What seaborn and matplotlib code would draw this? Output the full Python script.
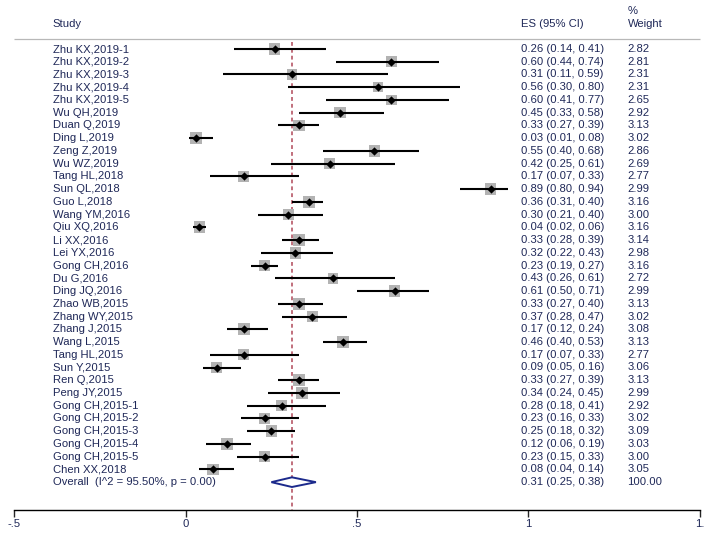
import numpy as np
import pandas as pd
import matplotlib
matplotlib.use("Agg")
import matplotlib.pyplot as plt
import seaborn as sns

# study data
studies = ["Zhu KX,2019-1", "Zhu KX,2019-2", "Zhu KX,2019-3", "Zhu KX,2019-4", "Zhu KX,2019-5",
           "Wu QH,2019", "Duan Q,2019", "Ding L,2019", "Zeng Z,2019", "Wu WZ,2019",
           "Tang HL,2018", "Sun QL,2018", "Guo L,2018", "Wang YM,2016", "Qiu XQ,2016",
           "Li XX,2016", "Lei YX,2016", "Gong CH,2016", "Du G,2016", "Ding JQ,2016",
           "Zhao WB,2015", "Zhang WY,2015", "Zhang J,2015", "Wang L,2015", "Tang HL,2015",
           "Sun Y,2015", "Ren Q,2015", "Peng JY,2015", "Gong CH,2015-1", "Gong CH,2015-2",
           "Gong CH,2015-3", "Gong CH,2015-4", "Gong CH,2015-5", "Chen XX,2018"]
es = [0.26, 0.60, 0.31, 0.56, 0.60, 0.45, 0.33, 0.03, 0.55, 0.42,
      0.17, 0.89, 0.36, 0.30, 0.04, 0.33, 0.32, 0.23, 0.43, 0.61,
      0.33, 0.37, 0.17, 0.46, 0.17, 0.09, 0.33, 0.34, 0.28, 0.23,
      0.25, 0.12, 0.23, 0.08]
lo = [0.14, 0.44, 0.11, 0.30, 0.41, 0.33, 0.27, 0.01, 0.40, 0.25,
      0.07, 0.80, 0.31, 0.21, 0.02, 0.28, 0.22, 0.19, 0.26, 0.50,
      0.27, 0.28, 0.12, 0.40, 0.07, 0.05, 0.27, 0.24, 0.18, 0.16,
      0.18, 0.06, 0.15, 0.04]
hi = [0.41, 0.74, 0.59, 0.80, 0.77, 0.58, 0.39, 0.08, 0.68, 0.61,
      0.33, 0.94, 0.40, 0.40, 0.06, 0.39, 0.43, 0.27, 0.61, 0.71,
      0.40, 0.47, 0.24, 0.53, 0.33, 0.16, 0.39, 0.45, 0.41, 0.33,
      0.32, 0.19, 0.33, 0.14]
weight = [2.82, 2.81, 2.31, 2.31, 2.65, 2.92, 3.13, 3.02, 2.86, 2.69,
          2.77, 2.99, 3.16, 3.00, 3.16, 3.14, 2.98, 3.16, 2.72, 2.99,
          3.13, 3.02, 3.08, 3.13, 2.77, 3.06, 3.13, 2.99, 2.92, 3.02,
          3.09, 3.03, 3.00, 3.05]
overall_label = "Overall  (I^2 = 95.50%, p = 0.00)"
overall_es, overall_lo, overall_hi, overall_w = 0.31, 0.25, 0.38, 100.00
tick_vals = [-0.5, 0, 0.5, 1, 1.5]
tick_labels = ["-.5", "0", ".5", "1", "1."]

df = pd.DataFrame({"study": studies, "es": es, "lo": lo, "hi": hi, "weight": weight})
df["row"] = np.arange(len(df))
overall_row = len(df)

sns.set_style("white")
plt.rcParams["font.family"] = ["Liberation Sans", "DejaVu Sans"]
txt_col = "#1f2858"
fs = 8.1

fig = plt.figure(figsize=(7.08, 5.35), dpi=100)
ax = fig.add_axes([0, 25 / 535, 1, 1 - 25 / 535])
ax.set_xlim(-0.5423, 1.5248)
ax.set_ylim((510 - 49) / 12.74, -49 / 12.74)

# confidence intervals
ax.hlines(df["row"], df["lo"], df["hi"], color="black", lw=1.5, zorder=3)
# weight boxes + point estimates
sns.scatterplot(data=df, x="es", y="row", marker="s", color="#b3b3b3",
                s=df["weight"] / 3.0 * 68, linewidth=0, ax=ax, zorder=2, legend=False)
sns.scatterplot(data=df, x="es", y="row", marker="D", color="black",
                s=18, linewidth=0, ax=ax, zorder=4, legend=False)

# overall diamond
h = 0.38
ax.fill([overall_lo, overall_es, overall_hi, overall_es],
        [overall_row, overall_row - h, overall_row, overall_row + h],
        facecolor="white", edgecolor="#1c2a8c", lw=1.4, zorder=3)

# overall effect reference line
header_row = -0.78
ax.vlines(overall_es, header_row + 0.25, ax.get_ylim()[0], color="#b04858",
          lw=1.1, linestyles=(0, (2.5, 2)), zorder=1)

# header
ax.hlines(header_row, -0.5, 1.5, color="#b8b8b8", lw=0.9)
x_study, x_es, x_w = -0.388, 0.978, 1.29
ax.text(x_study, -1.96, "Study", fontsize=fs, color=txt_col, va="center")
ax.text(x_es, -1.96, "ES (95% CI)", fontsize=fs, color=txt_col, va="center")
ax.text(x_w, -2.98, "%", fontsize=fs, color=txt_col, va="center")
ax.text(x_w, -1.96, "Weight", fontsize=fs, color=txt_col, va="center")

for r in df.itertuples():
    ax.text(x_study, r.row, r.study, fontsize=fs, color=txt_col, va="center")
    ax.text(x_es, r.row, f"{r.es:.2f} ({r.lo:.2f}, {r.hi:.2f})", fontsize=fs, color=txt_col, va="center")
    ax.text(x_w, r.row, f"{r.weight:.2f}", fontsize=fs, color=txt_col, va="center")
ax.text(x_study, overall_row, overall_label, fontsize=fs, color=txt_col, va="center")
ax.text(x_es, overall_row, f"{overall_es:.2f} ({overall_lo:.2f}, {overall_hi:.2f})",
        fontsize=fs, color=txt_col, va="center")
ax.text(x_w, overall_row, f"{overall_w:.2f}", fontsize=fs, color=txt_col, va="center")

# axis
for s in ["top", "left", "right"]:
    ax.spines[s].set_visible(False)
ax.spines["bottom"].set_bounds(-0.5, 1.5)
ax.spines["bottom"].set_color("black")
ax.spines["bottom"].set_linewidth(1.0)
ax.set_xticks(tick_vals)
ax.set_xticklabels(tick_labels)
ax.tick_params(axis="x", direction="out", length=5, width=1, pad=1.5,
               labelsize=fs, labelcolor=txt_col, bottom=True)
ax.set_yticks([])
ax.set_xlabel("")
ax.set_ylabel("")

fig.savefig("out.png", dpi=100)
